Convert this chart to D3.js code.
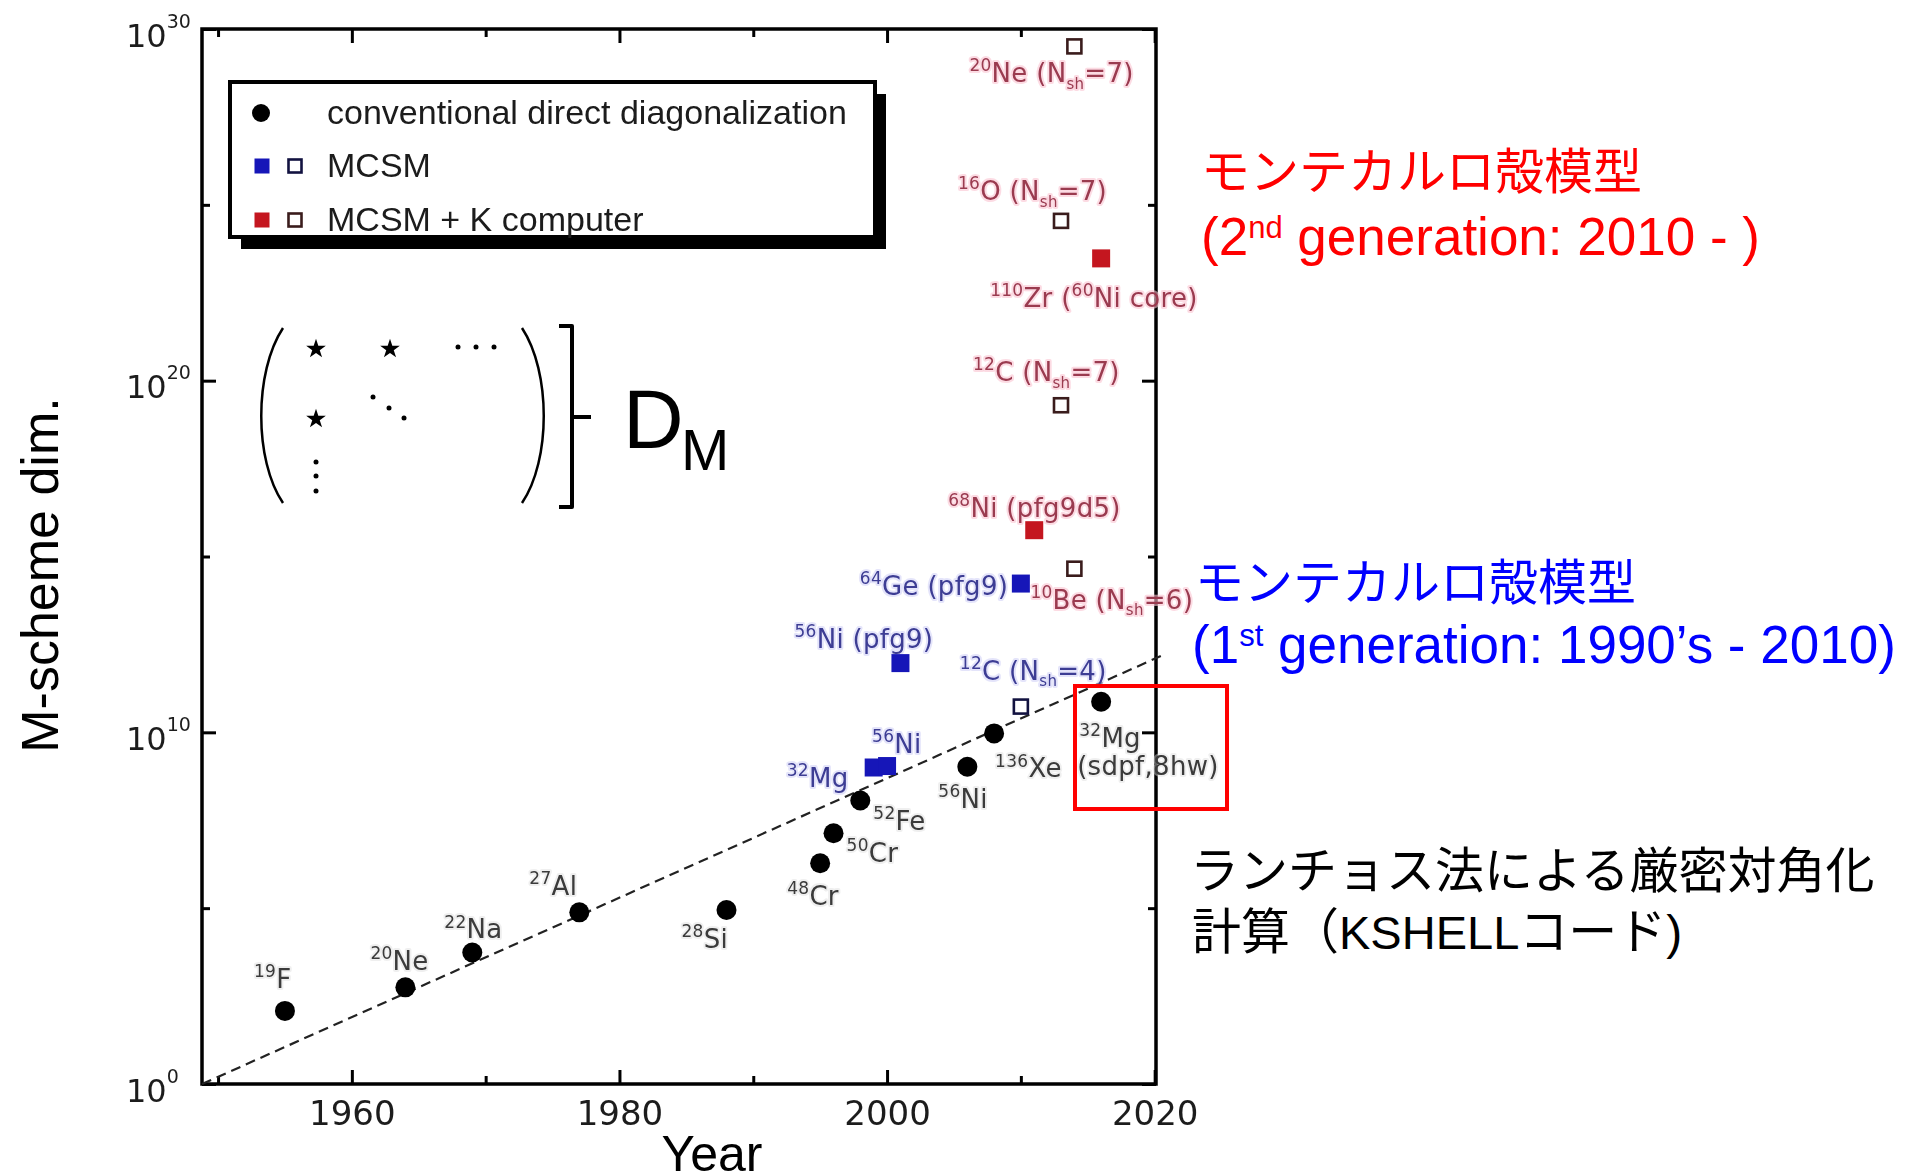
<!DOCTYPE html>
<html><head><meta charset="utf-8">
<script src="https://cdn.jsdelivr.net/npm/d3@7"></script>
<style>
html,body{margin:0;padding:0;background:#fff;}
svg{display:block;}
text{white-space:pre;}
</style></head><body>
<svg id="chart" width="1928" height="1176"></svg>
<script>
// ---- axis ticks ----
const yearTicksMajor = [1960, 1980, 2000, 2020];
const yearTicksMinor = [1950, 1970, 1990, 2010];
const dimTicksMajor = [1e0, 1e10, 1e20, 1e30];
const dimTicksMinor = [1e5, 1e15, 1e25];

// ---- conventional direct diagonalization ----
const directLabels = ["^{19}F", "^{20}Ne", "^{22}Na", "^{27}Al", "^{28}Si", "^{48}Cr", "^{50}Cr", "^{52}Fe", "^{56}Ni", "^{136}Xe", "^{32}Mg\n(sdpf,8hw)"];
const directYears  = [1955, 1964, 1969, 1977, 1988, 1995, 1996, 1998, 2006, 2008, 2016];
const directDims   = [1.2e2, 5.6e2, 5.5e3, 7.6e4, 8.9e4, 1.9e6, 1.35e7, 1.15e8, 1.05e9, 9.3e9, 7.4e10];

// ---- MCSM (1st generation) ----
const mcsmLabels = ["^{32}Mg", "^{56}Ni", "^{56}Ni (pfg9)", "^{64}Ge (pfg9)", "^{12}C (N_{sh}=4)"];
const mcsmYears  = [1999, 2000, 2001, 2010, 2010];
const mcsmDims   = [1.0e9, 1.1e9, 9.3e11, 1.7e14, 5.4e10];
const mcsmOpen   = [false, false, false, false, true];

// ---- MCSM + K computer ----
const kLabels = ["^{68}Ni (pfg9d5)", "^{12}C (N_{sh}=7)", "^{16}O (N_{sh}=7)", "^{10}Be (N_{sh}=6)", "^{20}Ne (N_{sh}=7)", "^{110}Zr (^{60}Ni core)"];
const kYears  = [2011, 2013, 2013, 2014, 2014, 2016];
const kDims   = [5.6e15, 2.0e19, 3.5e24, 4.5e14, 3.2e29, 3.0e23];
const kOpen   = [false, true, true, true, true, false];

// ---- exponential trend of the direct diagonalization ----
const trendYears = [1948.8, 2020.5];
const trendDims  = [1e0, 1.5e12];

// ---- legend ----
const legendNames = ["conventional direct diagonalization", "MCSM", "MCSM + K computer"];

// label placement (offset of the text start / baseline from the marker centre)
const directLabelOffsets = [[-31,-23],[-35,-17],[-28,-14],[-50,-17],[-45,38],[-33,42],[13,29],[13,29],[-29,41],[1,44],[-22,45]];
const mcsmLabelOffsets   = [[-87,19],[-15,-13],[-106,-15],[-161,11],[-61,-27]];
const kLabelOffsets      = [[-86,-13],[-88,-24],[-103,-21],[-44,40],[-105,36],[-111,49]];

const W = 1928, H = 1176;
const svg = d3.select("#chart");
svg.append("rect").attr("width", W).attr("height", H).attr("fill", "#fff");
const defs = svg.append("defs");
defs.append("filter").attr("id", "soft").append("feGaussianBlur").attr("stdDeviation", 0.55);

const x = d3.scaleLinear().domain([1948.8, 2020.1]).range([202, 1156]);
const y = d3.scaleLog().domain([1, 1e30]).range([1084, 29]);

const plotFont = "DejaVu Sans, Verdana, sans-serif";
const sansFont = "Liberation Sans, Arial, Helvetica, sans-serif";
const cjkFont = "Noto Sans CJK JP, Noto Sans CJK SC, sans-serif";

// rich text with ^{sup} and _{sub} markup
function richText(sel, str, base, supSize, subSize) {
  const parts = str.split(/(\^\{[^}]*\}|_\{[^}]*\})/).filter(s => s.length);
  let shift = 0;
  parts.forEach(p => {
    let target, size, txt;
    if (p.startsWith("^{")) { target = -base * 0.42; size = supSize; txt = p.slice(2, -1); }
    else if (p.startsWith("_{")) { target = base * 0.26; size = subSize; txt = p.slice(2, -1); }
    else { target = 0; size = base; txt = p; }
    sel.append("tspan").attr("dy", target - shift).attr("font-size", size).text(txt);
    shift = target;
  });
}

const plot = svg.append("g");

// ---- axes (ticks point inward on all four sides) ----
function styleAxis(g) {
  g.select(".domain").remove();
  g.selectAll(".tick line").attr("stroke", "#000").attr("stroke-width", 3);
}
const gB = plot.append("g").attr("transform", `translate(0,${y(1)})`)
  .call(d3.axisBottom(x).tickValues(yearTicksMajor).tickSize(-14).tickFormat(d3.format("d")));
styleAxis(gB);
gB.selectAll(".tick text").attr("y", 41).attr("dy", null)
  .attr("font-family", plotFont).attr("font-size", 34).attr("fill", "#1e1e1e")
  .attr("filter", "url(#soft)");
styleAxis(plot.append("g").attr("transform", `translate(0,${y(1)})`)
  .call(d3.axisBottom(x).tickValues(yearTicksMinor).tickSize(-8).tickFormat("")));
styleAxis(plot.append("g").attr("transform", `translate(0,${y(1e30)})`)
  .call(d3.axisTop(x).tickValues(yearTicksMajor).tickSize(-14).tickFormat("")));
styleAxis(plot.append("g").attr("transform", `translate(0,${y(1e30)})`)
  .call(d3.axisTop(x).tickValues(yearTicksMinor).tickSize(-8).tickFormat("")));

const gL = plot.append("g").attr("transform", `translate(${x.range()[0]},0)`)
  .call(d3.axisLeft(y).tickValues(dimTicksMajor).tickSize(-14).tickFormat(d => "10"));
styleAxis(gL);
gL.selectAll(".tick text").each(function(d) {
  const t = d3.select(this);
  t.text(null).attr("x", -76).attr("y", 17).attr("dy", null).attr("text-anchor", "start")
    .attr("font-family", plotFont).attr("font-size", 32).attr("fill", "#1e1e1e")
    .attr("filter", "url(#soft)");
  t.append("tspan").text("10");
  t.append("tspan").attr("dy", -19).attr("font-size", 19).text(Math.round(Math.log10(d)));
});
styleAxis(plot.append("g").attr("transform", `translate(${x.range()[0]},0)`)
  .call(d3.axisLeft(y).tickValues(dimTicksMinor).tickSize(-8).tickFormat("")));
styleAxis(plot.append("g").attr("transform", `translate(${x.range()[1]},0)`)
  .call(d3.axisRight(y).tickValues(dimTicksMajor).tickSize(-14).tickFormat("")));
styleAxis(plot.append("g").attr("transform", `translate(${x.range()[1]},0)`)
  .call(d3.axisRight(y).tickValues(dimTicksMinor).tickSize(-8).tickFormat("")));

// frame
plot.append("rect")
  .attr("x", x.range()[0]).attr("y", y.range()[1])
  .attr("width", x.range()[1] - x.range()[0]).attr("height", y.range()[0] - y.range()[1])
  .attr("fill", "none").attr("stroke", "#000").attr("stroke-width", 3.5);

// axis titles
svg.append("text").attr("transform", "translate(58,575) rotate(-90)")
  .attr("text-anchor", "middle").attr("font-family", sansFont).attr("font-size", 52)
  .attr("fill", "#000").text("M-scheme dim.");
svg.append("text").attr("x", 712).attr("y", 1171)
  .attr("text-anchor", "middle").attr("font-family", sansFont).attr("font-size", 50)
  .attr("fill", "#000").text("Year");

// ---- trend line ----
const trend = trendYears.map((yr, i) => ({ year: yr, dim: trendDims[i] }));
plot.append("path").datum(trend)
  .attr("d", d3.line().x(d => x(d.year)).y(d => y(d.dim)))
  .attr("fill", "none").attr("stroke", "#222").attr("stroke-width", 2.2)
  .attr("stroke-dasharray", "10,6");

// ---- labels ----
function drawLabels(labels, years, dims, offsets, color, halo) {
  const g = plot.append("g").attr("font-family", plotFont).attr("fill", color)
    .attr("letter-spacing", 0.3).attr("filter", "url(#soft)");
  labels.forEach((lab, i) => {
    const cx = x(years[i]), cy = y(dims[i]);
    lab.split("\n").forEach((line, j) => {
      const t = g.append("text")
        .attr("x", cx + offsets[i][0] - (j ? 2 : 0))
        .attr("y", cy + offsets[i][1] + j * 28)
        .attr("stroke", halo).attr("stroke-width", 4).attr("paint-order", "stroke")
        .attr("stroke-linejoin", "round");
      richText(t, line, 26, 17, 15);
    });
  });
}
drawLabels(directLabels, directYears, directDims, directLabelOffsets, "#3a3a3a", "rgba(220,220,220,0.45)");
drawLabels(mcsmLabels, mcsmYears, mcsmDims, mcsmLabelOffsets, "#3d3d94", "rgba(205,205,245,0.55)");
drawLabels(kLabels, kYears, kDims, kLabelOffsets, "#9a3a50", "rgba(250,195,208,0.6)");

// ---- markers ----
const blueFill = "#1616b8", redFill = "#c4161f";
function square(g, cx, cy, s, open, fill, stroke) {
  if (open) {
    g.append("rect").attr("x", cx - s / 2).attr("y", cy - s / 2).attr("width", s).attr("height", s)
      .attr("fill", "#fff").attr("stroke", stroke).attr("stroke-width", 2.6);
  } else {
    g.append("rect").attr("x", cx - s / 2).attr("y", cy - s / 2).attr("width", s).attr("height", s)
      .attr("fill", fill);
  }
}
const gm = plot.append("g");
directYears.forEach((yr, i) => {
  gm.append("circle").attr("cx", x(yr)).attr("cy", y(directDims[i])).attr("r", 10).attr("fill", "#000");
});
mcsmYears.forEach((yr, i) => square(gm, x(yr), y(mcsmDims[i]), mcsmOpen[i] ? 14 : 18, mcsmOpen[i], blueFill, "#121240"));
kYears.forEach((yr, i) => square(gm, x(yr), y(kDims[i]), kOpen[i] ? 14 : 18, kOpen[i], redFill, "#3a1c1c"));

// ---- legend ----
const lg = plot.append("g");
lg.append("rect").attr("x", 241).attr("y", 94).attr("width", 645).attr("height", 155).attr("fill", "#000");
lg.append("rect").attr("x", 230).attr("y", 82).attr("width", 645).attr("height", 155)
  .attr("fill", "#fff").attr("stroke", "#000").attr("stroke-width", 4);
const rowY = [113, 166, 220];
lg.append("circle").attr("cx", 261).attr("cy", rowY[0]).attr("r", 9).attr("fill", "#000");
square(lg, 262, rowY[1], 15, false, blueFill);
square(lg, 295, rowY[1], 13, true, null, "#121240");
square(lg, 262, rowY[2], 15, false, redFill);
square(lg, 295, rowY[2], 13, true, null, "#3a1c1c");
legendNames.forEach((name, i) => {
  lg.append("text").attr("x", 327).attr("y", rowY[i] + 11)
    .attr("font-family", sansFont).attr("font-size", 34).attr("fill", "#1a1a1a")
    .attr("filter", "url(#soft)").text(name);
});

// ---- red box around the KSHELL result ----
svg.append("rect").attr("x", 1075).attr("y", 686).attr("width", 152).attr("height", 123)
  .attr("fill", "none").attr("stroke", "#ff0000").attr("stroke-width", 4);

// ---- matrix sketch with dimension D_M ----
const mx = svg.append("g").attr("fill", "none").attr("stroke", "#000");
mx.append("path").attr("d", "M283,328 C254,372 254,460 283,503").attr("stroke-width", 2.5);
mx.append("path").attr("d", "M522,328 C551,372 551,460 522,503").attr("stroke-width", 2.5);
mx.append("path").attr("d", "M559,326 L572,326 L572,507 L559,507 M572,417 L591,417")
  .attr("stroke-width", 4).attr("stroke-linejoin", "round");
const star = d3.symbol(d3.symbolStar).size(120);
[[316, 349], [390, 349], [316, 419]].forEach(([sx, sy]) => {
  svg.append("path").attr("d", star()).attr("transform", `translate(${sx},${sy})`).attr("fill", "#000");
});
[[458, 347], [476, 347], [494, 347], [373, 397], [389, 408], [404, 418], [316, 462], [316, 476], [316, 491]]
  .forEach(([dx, dy]) => svg.append("circle").attr("cx", dx).attr("cy", dy).attr("r", 2.5).attr("fill", "#000"));
svg.append("text").attr("x", 623).attr("y", 448).attr("font-family", sansFont).attr("font-size", 84)
  .attr("fill", "#000").text("D");
svg.append("text").attr("x", 681).attr("y", 470).attr("font-family", sansFont).attr("font-size", 58)
  .attr("fill", "#000").text("M");

// ---- annotations on the right ----
function annot(xp, yp, color, font, size, parts) {
  const t = svg.append("text").attr("x", xp).attr("y", yp).attr("fill", color)
    .attr("font-family", font).attr("font-size", size);
  parts.forEach(p => {
    const s = t.append("tspan").text(p.text);
    if (p.dy) s.attr("dy", p.dy);
    if (p.size) s.attr("font-size", p.size);
    if (p.font) s.attr("font-family", p.font);
  });
}
annot(1201, 189, "#ff0000", cjkFont, 49, [{ text: "モンテカルロ殻模型" }]);
annot(1201, 255, "#ff0000", sansFont, 53, [{ text: "(2" }, { text: "nd", size: 31, dy: -17 }, { text: " generation: 2010 - )", dy: 17 }]);
annot(1195, 600, "#0000ff", cjkFont, 49, [{ text: "モンテカルロ殻模型" }]);
annot(1192, 663, "#0000ff", sansFont, 53, [{ text: "(1" }, { text: "st", size: 31, dy: -17 }, { text: " generation: 1990’s - 2010)", dy: 17 }]);
annot(1190, 888, "#000", cjkFont, 49, [{ text: "ランチョス法による厳密対角化" }]);
annot(1192, 949, "#000", cjkFont, 49, [{ text: "計算（" }, { text: "KSHELL", font: sansFont, size: 47 }, { text: "コード" }, { text: ")", font: sansFont, size: 48 }]);
</script>
</body></html>
